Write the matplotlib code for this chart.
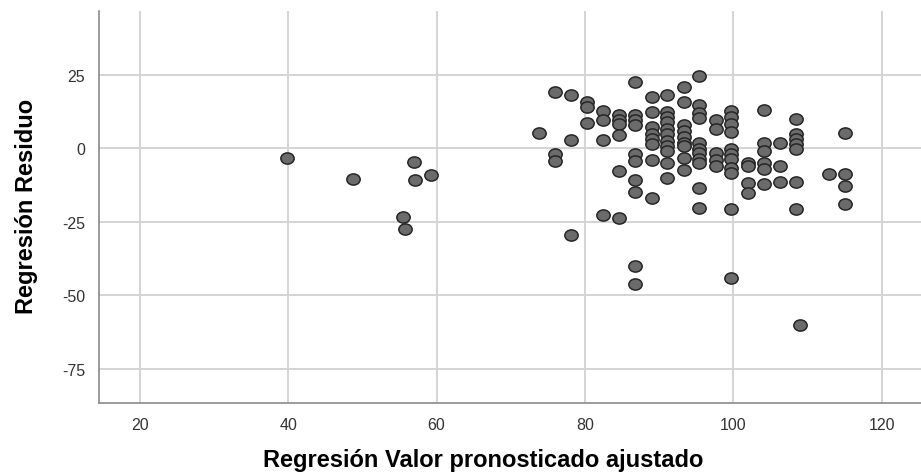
import numpy as np
import matplotlib
matplotlib.use("Agg")
import matplotlib.pyplot as plt
from matplotlib.path import Path

plt.rcParams['font.family'] = ['Liberation Sans', 'DejaVu Sans']
plt.rcParams['axes.unicode_minus'] = False

# predicted values (x) and residuals (y)
pred = [39.8, 48.7, 56.9, 57.1, 59.2, 55.5, 55.7,
        73.8,
        76.0, 76.0, 76.0,
        78.1, 78.1, 78.1,
        80.3, 80.3, 80.3,
        82.5, 82.5, 82.5, 82.5,
        84.6, 84.6, 84.6, 84.6, 84.6, 84.6,
        86.8, 86.8, 86.8, 86.8, 86.8, 86.8, 86.8, 86.8, 86.8, 86.8,
        89.0, 89.0, 89.0, 89.0, 89.0, 89.0, 89.0, 89.0,
        91.1, 91.1, 91.1, 91.1, 91.1, 91.1, 91.1, 91.1, 91.1, 91.1, 91.1,
        93.3, 93.3, 93.3, 93.3, 93.3, 93.3, 93.3, 93.3, 93.3,
        95.4, 95.4, 95.4, 95.4, 95.4, 95.4, 95.4, 95.4, 95.4, 95.4, 95.4,
        97.6, 97.6, 97.6, 97.6, 97.6,
        99.7, 99.7, 99.7, 99.7, 99.7, 99.7, 99.7, 99.7, 99.7, 99.7, 99.7,
        102.0, 102.0, 102.0, 102.0,
        104.1, 104.1, 104.1, 104.1, 104.1, 104.1,
        106.3, 106.3, 106.3,
        108.4, 108.4, 108.4, 108.4, 108.4, 108.4, 108.4,
        109.0,
        112.9,
        115.0, 115.0, 115.0, 115.0]

resid = [-3.4, -10.5, -4.8, -10.9, -9.2, -23.5, -27.6,
         5.2,
         19.1, -2.0, -4.3,
         17.9, 2.7, -29.5,
         15.7, 14.0, 8.6,
         12.7, 9.6, 2.7, -22.7,
         11.4, 9.6, 8.2, 4.3, -7.7, -23.8,
         22.3, 11.2, 9.6, 8.0, -2.0, -4.3, -10.8, -14.8, -40.0, -46.1,
         17.2, 12.1, 7.0, 4.8, 3.1, 1.4, -4.2, -16.8,
         18.0, 12.1, 10.4, 8.7, 6.5, 4.8, 2.5, 0.8, -0.9, -5.1, -10.1,
         20.9, 15.7, 7.8, 5.9, 3.8, 1.9, 0.8, -3.2, -7.3,
         24.6, 14.5, 11.9, 10.2, 1.7, -0.3, -1.8, -3.7, -4.9, -13.5, -20.5,
         9.6, 6.5, -1.8, -3.9, -6.0,
         12.7, 10.4, 8.2, 5.3, -0.3, -2.0, -3.7, -6.6, -8.5, -20.7, -44.0,
         -5.2, -6.1, -11.8, -15.1,
         13.1, 1.9, -1.0, -4.9, -7.1, -12.1,
         1.7, -6.1, -11.4,
         9.8, 4.8, 3.1, 1.4, -0.3, -11.4, -20.6,
         -60.0,
         -8.7,
         5.2, -8.8, -13.0, -19.0]

x_ticks = [20, 40, 60, 80, 100, 120]
y_ticks = [-75, -50, -25, 0, 25]

# slightly flattened circle, like the SPSS markers
circ = Path.unit_circle()
ellipse = Path(circ.vertices * np.array([1.0, 0.84]), circ.codes)

fig = plt.figure(figsize=(9.21, 4.77), dpi=100)
ax = fig.add_axes([0.1075, 0.153, 0.8925, 0.822])

ax.scatter(pred, resid, s=92, marker=ellipse, facecolors='#6b6b6b',
           edgecolors='#262626', linewidths=1.1, zorder=3)

ax.set_xlim(14.5, 125.3)
ax.set_ylim(-86.6, 46.6)
ax.set_xticks(x_ticks)
ax.set_yticks(y_ticks)
ax.grid(True, color='#d4d4d4', linewidth=1.4, zorder=0)
ax.set_axisbelow(True)

for side in ['top', 'right']:
    ax.spines[side].set_visible(False)
for side in ['left', 'bottom']:
    ax.spines[side].set_color('#8a8a8a')
    ax.spines[side].set_linewidth(1.2)

ax.tick_params(length=0, labelsize=11.5, labelcolor='#333333', pad=10)

ax.set_xlabel('Regresión Valor pronosticado ajustado', fontsize=17,
              fontweight='bold')
ax.set_ylabel('Regresión Residuo', fontsize=17, fontweight='bold')
ax.xaxis.set_label_coords(0.467, -0.115)
ax.yaxis.set_label_coords(-0.074, 0.504)

fig.savefig('out.png', dpi=100)
